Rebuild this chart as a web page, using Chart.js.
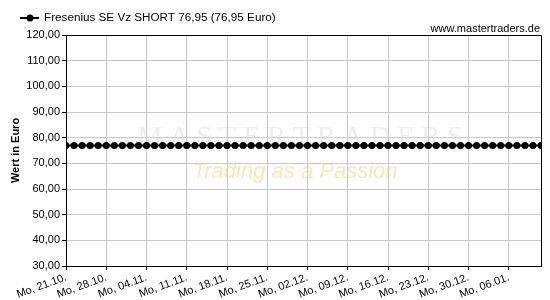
<!DOCTYPE html>
<html>
<head>
<meta charset="utf-8">
<script src="https://cdn.jsdelivr.net/npm/chart.js@4.4.1/dist/chart.umd.min.js"></script>
<style>
  html, body { margin: 0; padding: 0; background: #fff; }
  #wrap { width: 550px; height: 300px; }
</style>
</head>
<body>
<div id="wrap"><canvas id="chart" width="550" height="300"></canvas></div>
<script>
// Fresenius SE Vz SHORT, one point per trading day (Mo-Fr)
const seriesName = 'Fresenius SE Vz SHORT 76,95 (76,95 Euro)';
const tickLabels = ['Mo, 21.10.', 'Mo, 28.10.', 'Mo, 04.11.', 'Mo, 11.11.', 'Mo, 18.11.', 'Mo, 25.11.',
                    'Mo, 02.12.', 'Mo, 09.12.', 'Mo, 16.12.', 'Mo, 23.12.', 'Mo, 30.12.', 'Mo, 06.01.'];
const values = [
  76.95, 76.95, 76.95, 76.95, 76.95, 76.95, 76.95, 76.95, 76.95, 76.95,
  76.95, 76.95, 76.95, 76.95, 76.95, 76.95, 76.95, 76.95, 76.95, 76.95,
  76.95, 76.95, 76.95, 76.95, 76.95, 76.95, 76.95, 76.95, 76.95, 76.95,
  76.95, 76.95, 76.95, 76.95, 76.95, 76.95, 76.95, 76.95, 76.95, 76.95,
  76.95, 76.95, 76.95, 76.95, 76.95, 76.95, 76.95, 76.95, 76.95, 76.95,
  76.95, 76.95, 76.95, 76.95, 76.95, 76.95, 76.95, 76.95, 76.95, 76.95
];
const daysPerWeek = 5;
const yMin = 30, yMax = 120, yStep = 10;

const FONT = '"Liberation Sans", Arial, sans-serif';

const extras = {
  id: 'extras',
  beforeDatasetsDraw(chart) {
    const c = chart.ctx;
    c.save();
    // watermark
    c.textAlign = 'center';
    c.textBaseline = 'middle';
    c.fillStyle = 'rgba(210,210,210,0.4)';
    c.font = '28px "Liberation Serif", serif';
    c.fillText('M A S T E R T R A D E R S', 300, 138);
    c.fillStyle = 'rgba(250,205,110,0.5)';
    c.font = 'italic 22px "Liberation Sans", sans-serif';
    c.fillText('Trading as a Passion', 295, 172);
    c.restore();
  },
  afterDraw(chart) {
    const c = chart.ctx, a = chart.chartArea;
    c.save();
    // top and right frame
    c.strokeStyle = '#000';
    c.lineWidth = 1;
    c.beginPath();
    c.moveTo(Math.round(a.left) + 0.5, Math.round(a.top) + 0.5);
    c.lineTo(Math.round(a.right) + 0.5, Math.round(a.top) + 0.5);
    c.lineTo(Math.round(a.right) + 0.5, Math.round(a.bottom) + 0.5);
    c.stroke();
    // legend
    c.lineWidth = 2;
    c.beginPath();
    c.moveTo(20, 18);
    c.lineTo(39, 18);
    c.stroke();
    c.fillStyle = '#000';
    c.beginPath();
    c.arc(30, 18, 3.5, 0, Math.PI * 2);
    c.fill();
    c.font = '11.7px ' + FONT;
    c.textBaseline = 'middle';
    c.textAlign = 'left';
    c.fillText(seriesName, 44, 18);
    c.font = '11px ' + FONT;
    c.textAlign = 'right';
    c.fillText('www.mastertraders.de', 540, 29);
    c.restore();
  }
};

new Chart(document.getElementById('chart'), {
  type: 'line',
  data: {
    datasets: [{
      label: seriesName,
      data: values.map((v, i) => ({ x: i, y: v })),
      borderColor: '#000',
      borderWidth: 2,
      backgroundColor: '#000',
      pointBackgroundColor: '#000',
      pointBorderColor: '#000',
      pointRadius: 3.5,
      pointBorderWidth: 0,
      tension: 0
    }]
  },
  options: {
    responsive: false,
    animation: false,
    layout: { padding: { top: 35, right: 9, left: 0, bottom: 0 } },
    plugins: { legend: { display: false }, tooltip: { enabled: false } },
    scales: {
      x: {
        type: 'linear',
        min: 0,
        max: values.length - 1,
        afterBuildTicks: axis => {
          axis.ticks = axis.ticks.filter(t => t.value % daysPerWeek === 0);
        },
        afterFit: axis => { axis.height = 34; },
        ticks: {
          stepSize: daysPerWeek,
          autoSkip: false,
          minRotation: 20,
          maxRotation: 20,
          padding: 1,
          color: '#000',
          font: { family: FONT, size: 11 },
          callback: v => tickLabels[v / daysPerWeek]
        },
        grid: { color: '#c8c8c8', tickColor: '#000', tickLength: 4, lineWidth: 1 },
        border: { color: '#000', width: 1 }
      },
      y: {
        min: yMin,
        max: yMax,
        afterFit: axis => { axis.width = 66; },
        ticks: {
          stepSize: yStep,
          padding: 2,
          color: '#000',
          font: { family: FONT, size: 11 },
          callback: v => v.toFixed(2).replace('.', ',')
        },
        grid: { color: '#c8c8c8', tickColor: '#000', tickLength: 4, lineWidth: 1 },
        border: { color: '#000', width: 1 },
        title: {
          display: true,
          text: 'Wert in Euro',
          color: '#000',
          font: { family: FONT, size: 11, weight: 'bold' },
          padding: { top: 9, bottom: 0 }
        }
      }
    }
  },
  plugins: [extras]
});
</script>
</body>
</html>
